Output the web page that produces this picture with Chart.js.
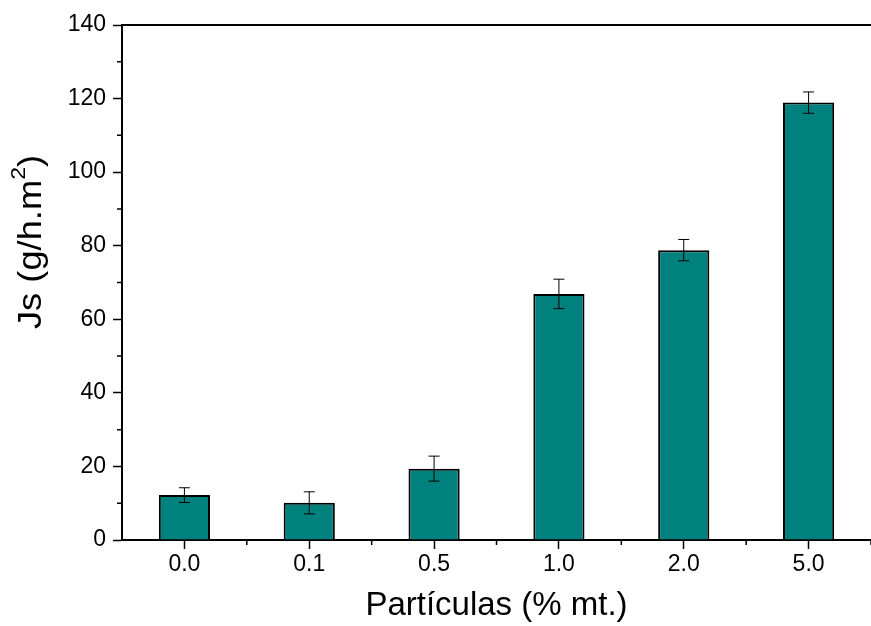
<!DOCTYPE html>
<html>
<head>
<meta charset="utf-8">
<script src="https://cdn.jsdelivr.net/npm/chart.js@4"></script>
<style>
  body { margin: 0; background: #fff; }
  #grafico { display: block; }
</style>
</head>
<body>
<canvas id="grafico" width="871" height="626"></canvas>
<script>
// Dados
const particulas = ['0.0', '0.1', '0.5', '1.0', '2.0', '5.0'];
const fluxoJs = [12.2, 10.1, 19.4, 66.9, 78.8, 118.9];
const erroJs = [2.0, 3.0, 3.4, 4.0, 2.9, 2.9];
const yMin = 0;
const yMax = 140;
const yPasso = 20;

const fonte = "'Liberation Sans', Arial, sans-serif";
const corBarra = '#00817d';

// Barras de erro desenhadas sobre as barras
const pluginErro = {
    id: 'barrasErro',
    afterDatasetsDraw(chart) {
        const ctx = chart.ctx;
        const x = chart.scales.x;
        const y = chart.scales.y;
        ctx.save();
        ctx.strokeStyle = '#000';
        ctx.lineWidth = 1;
        fluxoJs.forEach((v, i) => {
            const px = x.getPixelForValue(i);
            const topo = y.getPixelForValue(v + erroJs[i]);
            const base = y.getPixelForValue(v - erroJs[i]);
            ctx.beginPath();
            ctx.moveTo(px, topo);
            ctx.lineTo(px, base);
            ctx.moveTo(px - 5.5, topo);
            ctx.lineTo(px + 5.5, topo);
            ctx.moveTo(px - 5.5, base);
            ctx.lineTo(px + 5.5, base);
            ctx.stroke();
        });
        ctx.restore();
    }
};

// Ticks menores, linha superior e título do eixo y (com sobrescrito)
const pluginEixos = {
    id: 'eixosExtras',
    afterDraw(chart) {
        const ctx = chart.ctx;
        const area = chart.chartArea;
        const x = chart.scales.x;
        const y = chart.scales.y;
        ctx.save();
        ctx.strokeStyle = '#000';
        ctx.lineWidth = 2;
        ctx.beginPath();
        ctx.moveTo(area.left, area.top);
        ctx.lineTo(area.right, area.top);
        ctx.stroke();

        ctx.lineWidth = 1.5;
        ctx.beginPath();
        for (let v = yMin + yPasso / 2; v < yMax; v += yPasso) {
            const py = y.getPixelForValue(v);
            ctx.moveTo(area.left - 5, py);
            ctx.lineTo(area.left, py);
        }
        for (let i = 0; i < particulas.length; i++) {
            const px = (x.getPixelForValue(i) + x.getPixelForValue(i + 1)) / 2;
            ctx.moveTo(px, area.bottom);
            ctx.lineTo(px, area.bottom + 5);
        }
        ctx.stroke();

        // título vertical, um pouco esticado como no original
        ctx.fillStyle = '#000';
        ctx.translate(32, 242);
        ctx.rotate(-Math.PI / 2);
        ctx.scale(1.1, 1);
        ctx.textBaseline = 'middle';
        ctx.textAlign = 'left';
        const parte1 = 'Js (g/h.m';
        const sup = '2';
        const parte2 = ')';
        ctx.font = '33px ' + fonte;
        const w1 = ctx.measureText(parte1).width;
        const w3 = ctx.measureText(parte2).width;
        ctx.font = '21px ' + fonte;
        const w2 = ctx.measureText(sup).width;
        const inicio = -(w1 + w2 + w3) / 2;
        ctx.font = '33px ' + fonte;
        ctx.fillText(parte1, inicio, 0);
        ctx.font = '21px ' + fonte;
        ctx.fillText(sup, inicio + w1, -13);
        ctx.font = '33px ' + fonte;
        ctx.fillText(parte2, inicio + w1 + w2, 0);
        ctx.restore();
    }
};

const ctx = document.getElementById('grafico').getContext('2d');

new Chart(ctx, {
    type: 'bar',
    data: {
        labels: particulas,
        datasets: [{
            data: fluxoJs,
            backgroundColor: corBarra,
            borderColor: '#000',
            borderWidth: 2,
            borderSkipped: 'bottom',
            barPercentage: 0.41,
            categoryPercentage: 1
        }]
    },
    options: {
        responsive: false,
        animation: false,
        layout: { padding: { top: 25, right: 0, left: 0, bottom: 0 } },
        plugins: {
            legend: { display: false },
            tooltip: { enabled: false }
        },
        scales: {
            x: {
                offset: true,
                grid: {
                    offset: false,
                    drawOnChartArea: false,
                    drawTicks: true,
                    tickLength: 9,
                    tickWidth: 1.5,
                    tickColor: '#000'
                },
                border: { display: true, color: '#000', width: 2 },
                ticks: {
                    color: '#000',
                    padding: 2,
                    maxRotation: 0,
                    font: { family: fonte, size: 23 }
                },
                title: {
                    display: true,
                    text: 'Partículas (% mt.)',
                    color: '#000',
                    padding: { top: 6, bottom: 0 },
                    font: { family: fonte, size: 33 }
                },
                afterFit(scale) { scale.height = 86; }
            },
            y: {
                min: yMin,
                max: yMax,
                grid: {
                    drawOnChartArea: false,
                    drawTicks: true,
                    tickLength: 9,
                    tickWidth: 1.5,
                    tickColor: '#000'
                },
                border: { display: true, color: '#000', width: 2 },
                ticks: {
                    stepSize: yPasso,
                    color: '#000',
                    padding: 7,
                    font: { family: fonte, size: 23 }
                },
                afterFit(scale) { scale.width = 122; }
            }
        }
    },
    plugins: [pluginErro, pluginEixos]
});
</script>
</body>
</html>
